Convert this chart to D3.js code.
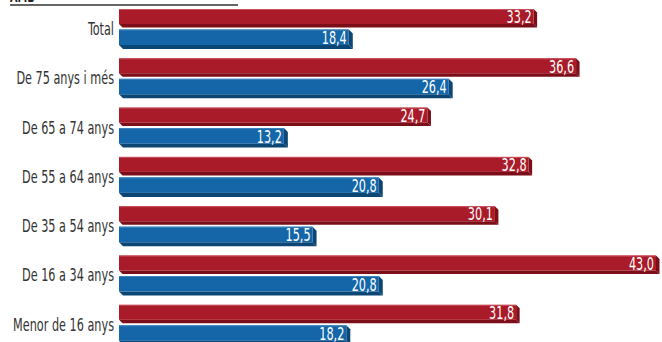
<!DOCTYPE html>
<html>
<head>
<meta charset="utf-8">
<script src="https://cdn.jsdelivr.net/npm/d3@7"></script>
<style>
  html, body { margin: 0; padding: 0; background: #fff; }
  svg { display: block; }
  text { font-family: "DejaVu Sans Condensed", "DejaVu Sans", sans-serif; font-stretch: condensed; }
</style>
</head>
<body>
<svg id="chart" width="662" height="342"></svg>
<script>
const categories = ["Total", "De 75 anys i més", "De 65 a 74 anys", "De 55 a 64 anys", "De 35 a 54 anys", "De 16 a 34 anys", "Menor de 16 anys"];
const valorsVermell = [33.2, 36.6, 24.7, 32.8, 30.1, 43.0, 31.8];
const valorsBlau = [18.4, 26.4, 13.2, 20.8, 15.5, 20.8, 18.2];
const titol = "AMB";
const font = "Font: ESB 2017";

const svg = d3.select("#chart");
const fmt = v => d3.format(".1f")(v).replace(".", ",");

const x = d3.scaleLinear().domain([0, 43]).range([119, 656]);
const y = d3.scaleBand().domain(categories).range([9, 9 + 49.3 * 6 + 40]).paddingInner(0.189).paddingOuter(0);

const fs = 18.5;
// narrowing factor so the longest label is ~101px wide
const probe = svg.append("text").attr("font-size", fs).text("Menor de 16 anys");
const sx = 101 / probe.node().getComputedTextLength();
probe.remove();

// header
svg.append("text").attr("transform", "translate(10,2) scale(" + sx + ",1)").attr("font-weight", "bold")
  .attr("font-size", 16).attr("fill", "#222").text(titol);
svg.append("line").attr("x1", 10).attr("x2", 238).attr("y1", 5).attr("y2", 5)
  .attr("stroke", "#333").attr("stroke-width", 1.5);

const series = [
  { vals: valorsVermell, off: 0, h: 15, d: 3.5, front: "#AA1B29", dark: "#7B0E18", light: "#C8505C" },
  { vals: valorsBlau, off: 20.5, h: 15.5, d: 4, front: "#1466A8", dark: "#0C4674", light: "#3F83BC" }
];

series.forEach(s => {
  const g = svg.append("g");
  categories.forEach((c, i) => {
    const v = s.vals[i];
    const x0 = x(0), x1 = x(v);
    const y0 = y(c) + s.off, y1 = y0 + s.h, d = s.d;
    g.append("polygon")
      .attr("points", [[x0, y1], [x1, y1], [x1 + d, y1 + d], [x0 + d, y1 + d]].map(p => p.join(",")).join(" "))
      .attr("fill", s.dark);
    g.append("polygon")
      .attr("points", [[x1, y0], [x1 + d, y0 + d], [x1 + d, y1 + d], [x1, y1]].map(p => p.join(",")).join(" "))
      .attr("fill", s.dark);
    g.append("rect").attr("x", x0).attr("y", y0).attr("width", x1 - x0).attr("height", s.h)
      .attr("fill", s.front);
    g.append("line").attr("x1", x0).attr("x2", x1).attr("y1", y0 + 0.5).attr("y2", y0 + 0.5)
      .attr("stroke", s.light).attr("stroke-width", 1);
    g.append("text")
      .attr("transform", "translate(" + (x1 - 2) + "," + (y0 + s.h / 2 + 1.5) + ") scale(" + sx + ",1)")
      .attr("text-anchor", "end").attr("dominant-baseline", "middle")
      .attr("font-size", fs).attr("fill", "#fff").text(fmt(v));
  });
});

// category axis
const axis = svg.append("g").attr("transform", "translate(114,0)")
  .call(d3.axisLeft(y).tickSize(0).tickPadding(0));
axis.select(".domain").remove();
axis.selectAll("text").attr("font-size", fs).attr("fill", "#333")
  .attr("font-family", null)
  .attr("transform", "scale(" + sx + ",1)");

// footer
svg.append("text").attr("transform", "translate(10,354) scale(" + sx + ",1)").attr("font-size", 15)
  .attr("fill", "#666").text(font);
</script>
</body>
</html>
